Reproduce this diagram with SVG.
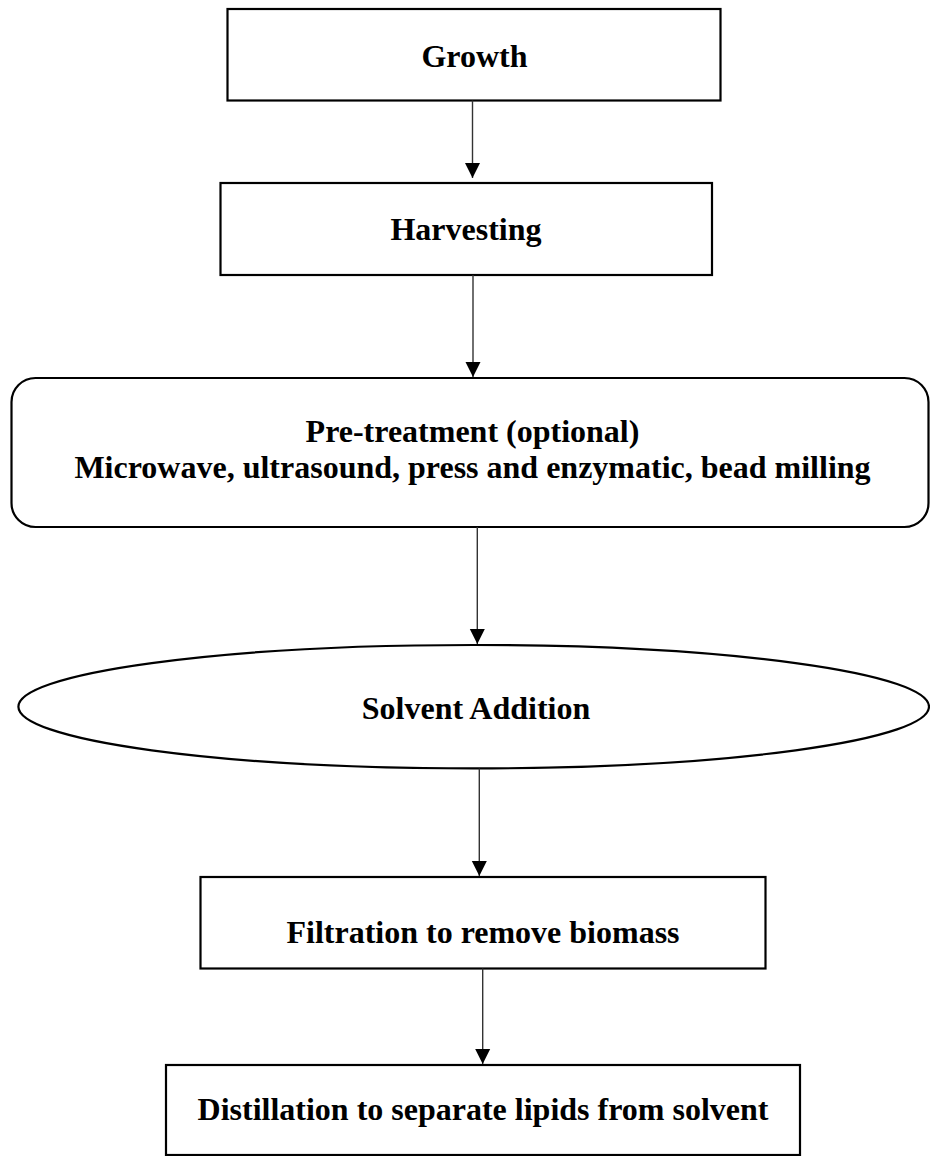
<svg xmlns="http://www.w3.org/2000/svg" width="930" height="1156" viewBox="0 0 930 1156">
<style>
.box{fill:#fff;stroke:#000;stroke-width:2.2}
.lbl{font-family:"Liberation Serif","Times New Roman",serif;font-weight:bold;font-size:32px;fill:#000;text-anchor:middle}
.con{stroke:#333;stroke-width:1.4;fill:none}
</style>
<defs>
<marker id="ah" markerUnits="userSpaceOnUse" markerWidth="16" markerHeight="16" viewBox="0 0 16 16" refX="15" refY="8" orient="auto">
<path d="M0,0.5 L15,8 L0,15.5 Z" fill="#000"/>
</marker>
</defs>
<rect width="930" height="1156" fill="#fff"/>
<g id="growth">
<rect class="box" x="227.5" y="9" width="493" height="91.5"/>
<text class="lbl" x="474.5" y="66.5">Growth</text>
</g>
<g id="harvesting">
<rect class="box" x="220.5" y="183" width="491.5" height="92"/>
<text class="lbl" x="466" y="240">Harvesting</text>
</g>
<g id="pretreatment">
<rect class="box" x="11.5" y="378" width="917" height="149" rx="24" ry="24"/>
<text class="lbl" x="472.5" y="442">Pre-treatment (optional)</text>
<text class="lbl" x="472.5" y="478">Microwave, ultrasound, press and enzymatic, bead milling</text>
</g>
<g id="solvent">
<ellipse class="box" cx="473.7" cy="706.7" rx="455.3" ry="61.7" stroke-width="2.5"/>
<text class="lbl" x="476" y="719">Solvent Addition</text>
</g>
<g id="filtration">
<rect class="box" x="200.5" y="877" width="565" height="91.5"/>
<text class="lbl" x="483" y="943">Filtration to remove biomass</text>
</g>
<g id="distillation">
<rect class="box" x="166" y="1065" width="634" height="90"/>
<text class="lbl" x="483" y="1120">Distillation to separate lipids from solvent</text>
</g>
<g id="connectors">
<line class="con" x1="472.5" y1="100.5" x2="472.5" y2="178" marker-end="url(#ah)"/>
<line class="con" x1="473" y1="275" x2="473" y2="377" marker-end="url(#ah)"/>
<line class="con" x1="477.3" y1="527" x2="477.3" y2="644" marker-end="url(#ah)"/>
<line class="con" x1="479.3" y1="768.5" x2="479.3" y2="876" marker-end="url(#ah)"/>
<line class="con" x1="482.7" y1="968.5" x2="482.7" y2="1064" marker-end="url(#ah)"/>
</g>
</svg>
